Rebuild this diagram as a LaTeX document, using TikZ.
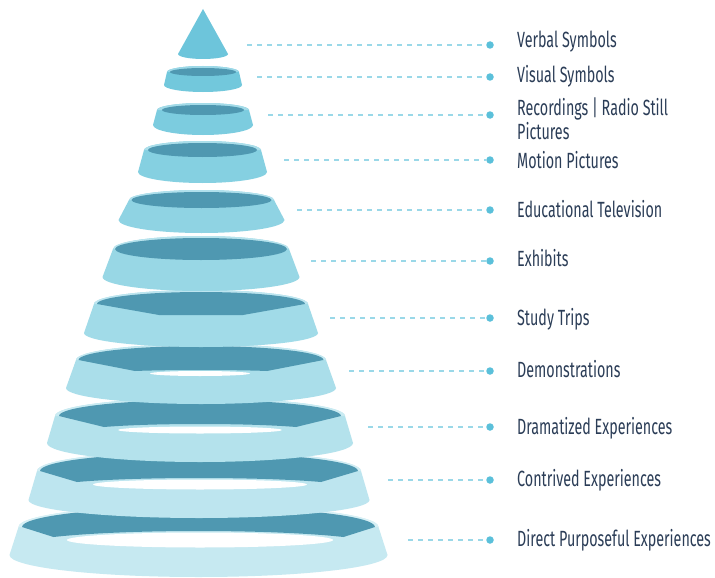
\documentclass[tikz,border=0pt]{standalone}
\usepackage{fontspec}
\newfontfamily\lab{Fira Sans}[FakeStretch=0.65]
\definecolor{coneC}{HTML}{6DC5DB}
\definecolor{ringHi}{HTML}{72C8DC}
\definecolor{ringLo}{HTML}{C6E9F1}
\definecolor{darkC}{HTML}{4F98B1}
\definecolor{lead}{HTML}{9AD8E8}
\definecolor{dotc}{HTML}{5BC0DA}
\definecolor{txt}{HTML}{2B3D57}
\begin{document}
\begin{tikzpicture}[x=1pt,y=-1pt,
  leader/.style={draw=lead, line width=1.5pt, dash pattern=on 5pt off 5pt},
  dotmark/.style={circle, fill=dotc, inner sep=0pt, minimum size=7.5pt},
  itemtext/.style={anchor=base west, inner sep=0pt, text=txt,
    font=\lab\fontsize{22}{23}\selectfont}]
\fill[white] (0,0) rectangle (715,578);
\useasboundingbox (0,0) rectangle (715,578);

% lower rings: inner wall with visible opening
\foreach \i/\cx/\tY/\oR/\dR/\dRy/\cD/\cY/\lM/\wy/\wr/\wry/\bY/\bR/\bRy in {
  10/198.5/527/180/176.5/20/145/537/531/540/133/7.5/555/189/22,
  9/199/471/162/159/18/122/482/478/484.5/107/5/500/170.5/18,
  8/200/416/145/141/16/96/427/424/430/82/3.5/443/153/19,
  7/201/360/125/122.5/14/66/371/370/373.5/50/2.5/388/135/16,
  6/201/304/107/104/12/42/315/315/0/0/0/333/117/14}
{
  \pgfmathtruncatemacro\p{100-(\i-1)*100/9}
  \colorlet{bodyC}{ringHi!\p!ringLo}
  \colorlet{rimC}{bodyC!70!white}
  \pgfmathsetmacro\oRy{\dRy+2}
  \pgfmathsetmacro\cc{(8*\lM-2*\cY)/6}
  \fill[bodyC] (\cx-\oR,\tY) -- (\cx-\bR,\bY)
    arc[start angle=180,end angle=0,x radius=\bR,y radius=\bRy]
    -- (\cx+\oR,\tY)
    arc[start angle=0,end angle=-180,x radius=\oR,y radius=\oRy] -- cycle;
  \fill[rimC] (\cx-\oR,\tY)
    arc[start angle=180,end angle=360,x radius=\oR,y radius=\oRy] -- cycle;
  \fill[darkC] (\cx-\dR,\tY)
    arc[start angle=180,end angle=360,x radius=\dR,y radius=\dRy]
    -- (\cx+\cD,\cY) .. controls (\cx+\cD/2,\cc) and (\cx-\cD/2,\cc) .. (\cx-\cD,\cY) -- cycle;
  \ifdim\wr pt>0pt
    \fill[white] (200,\wy) ellipse[x radius=\wr,y radius=\wry];
  \fi
}

% upper rings
\foreach \i/\cx/\tY/\oR/\dR/\dRy/\bY/\bR/\bRy in {
  5/201/249/88/86/11/277/98.5/14,
  4/201.5/200/72.5/70/8/220/83/13,
  3/202.5/150/58.5/54.5/7/172/64.5/11,
  2/203/110/46/41/5/125/50/10,
  1/203/72/36/33/4/85/39/7}
{
  \pgfmathtruncatemacro\p{100-(\i-1)*100/9}
  \colorlet{bodyC}{ringHi!\p!ringLo}
  \colorlet{rimC}{bodyC!70!white}
  \pgfmathsetmacro\oRy{\dRy+2}
  \fill[bodyC] (\cx-\oR,\tY) -- (\cx-\bR,\bY)
    arc[start angle=180,end angle=0,x radius=\bR,y radius=\bRy]
    -- (\cx+\oR,\tY)
    arc[start angle=0,end angle=-180,x radius=\oR,y radius=\oRy] -- cycle;
  \fill[rimC] (\cx-\oR,\tY)
    arc[start angle=180,end angle=360,x radius=\oR,y radius=\oRy] -- cycle;
  \fill[darkC] (\cx,\tY) ellipse[x radius=\dR,y radius=\dRy];
}

% apex cone
\fill[coneC] (203,9) -- (178,54)
  arc[start angle=180,end angle=0,x radius=25,y radius=5] -- cycle;

% leaders and dots
\foreach \n/\sx/\ly in {1/247/45,2/257/77,3/268/115,4/284/160,5/297/210,
  6/311/261,7/330/318,8/349/371,9/368/427,10/388/480,11/408/540}
{
  \coordinate (s\n) at (\sx,\ly);
  \node[dotmark] (d\n) at (490,\ly) {};
  \draw[leader] (s\n) -- (d\n);
}

% labels
\node[itemtext] (t1) at (517,48) {Verbal Symbols};
\node[itemtext] (t2) at (517,83) {Visual Symbols};
\node[itemtext] (t3) at (517,115) {\begin{tabular}[t]{@{}l@{}}Recordings | Radio Still\\Pictures\end{tabular}};
\node[itemtext] (t4) at (517,168) {Motion Pictures};
\node[itemtext] (t5) at (517,217) {Educational Television};
\node[itemtext] (t6) at (517,266.5) {Exhibits};
\node[itemtext] (t7) at (517,325) {Study Trips};
\node[itemtext] (t8) at (517,377) {Demonstrations};
\node[itemtext] (t9) at (517,434) {Dramatized Experiences};
\node[itemtext] (t10) at (517,486) {Contrived Experiences};
\node[itemtext] (t11) at (517,546) {Direct Purposeful Experiences};
\end{tikzpicture}
\end{document}
